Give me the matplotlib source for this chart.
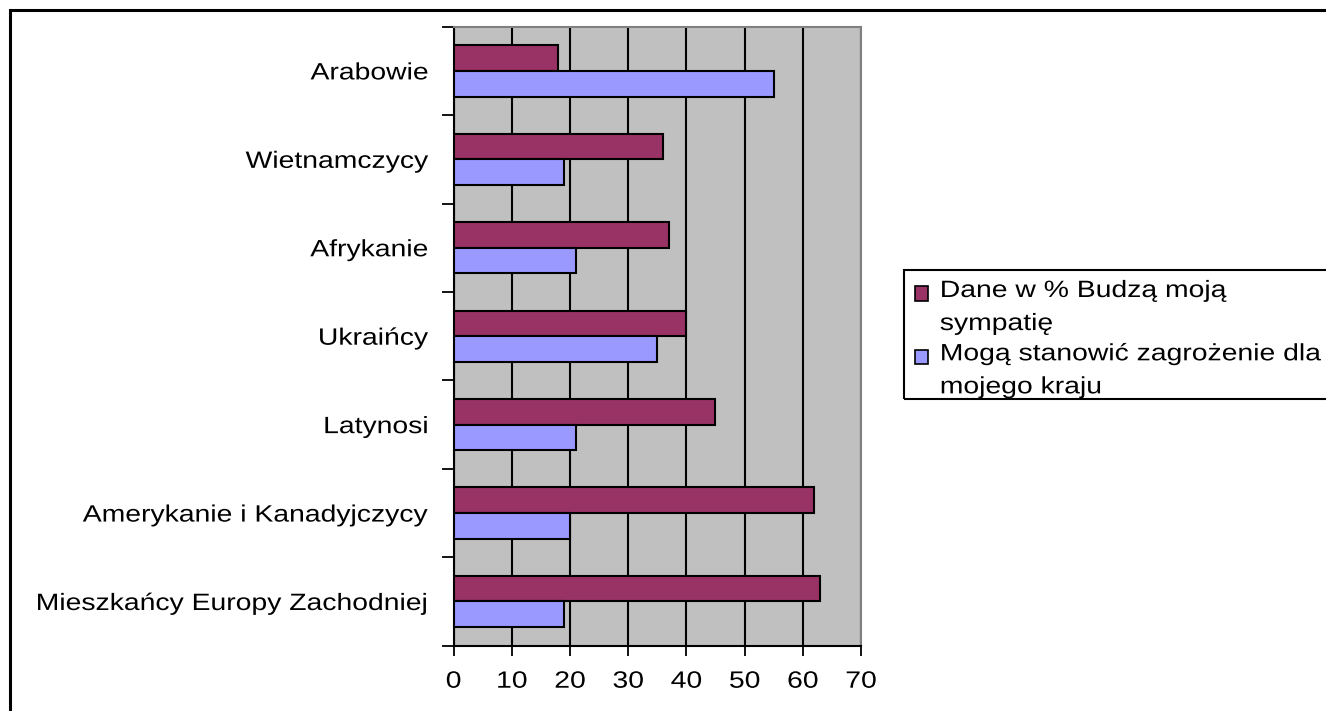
import matplotlib
matplotlib.use("Agg")
import matplotlib.pyplot as plt
from matplotlib.patches import Patch, Rectangle
from matplotlib.patheffects import AbstractPathEffect
from matplotlib.legend_handler import HandlerPatch
from matplotlib.transforms import Affine2D
import numpy as np

plt.rcParams['font.family'] = ['Liberation Sans', 'DejaVu Sans']

categories = ["Mieszkańcy Europy Zachodniej", "Amerykanie i Kanadyjczycy", "Latynosi",
              "Ukraińcy", "Afrykanie", "Wietnamczycy", "Arabowie"]
sympatia = [63, 62, 45, 40, 37, 36, 18]
zagrozenie = [19, 20, 21, 35, 21, 19, 55]
series_names = ["Dane w % Budzą moją\nsympatię", "Mogą stanowić zagrożenie dla\nmojego kraju"]
xticks = [0, 10, 20, 30, 40, 50, 60, 70]


class HStretch(AbstractPathEffect):
    """Horizontally widen glyphs (the original chart's text is stretched)."""

    def __init__(self, sx, anchor):
        super().__init__()
        self.sx = sx
        self.anchor = anchor

    def draw_path(self, renderer, gc, tpath, affine, rgbFace=None):
        if len(tpath.vertices) == 0:
            renderer.draw_path(gc, tpath, affine, rgbFace)
            return
        verts = affine.transform(tpath.vertices)
        xmin, xmax = verts[:, 0].min(), verts[:, 0].max()
        a = {"left": xmin, "right": xmax, "center": 0.5 * (xmin + xmax)}[self.anchor]
        new = affine + Affine2D().translate(-a, 0).scale(self.sx, 1).translate(a, 0)
        renderer.draw_path(gc, tpath, new, rgbFace)


SX = 1.2
FS = 17
LINE_PT = 20.5  # legend line distance in points

W, H = 1326, 711
fig = plt.figure(figsize=(W / 100, H / 100), dpi=100)
fig.patch.set_facecolor("white")

# outer frame
fig.patches.append(Rectangle((9.5 / W, -0.1), 1.2, 1 - 9.5 / H + 0.1, transform=fig.transFigure,
                             fill=False, edgecolor="black", linewidth=2.2, zorder=0))

ax = fig.add_axes([453.5 / W, 1 - 645.7 / H, (861 - 453.5) / W, (645.7 - 26.7) / H])
ax.set_facecolor("#C0C0C0")

y = np.arange(len(categories))
h = 0.29
ax.barh(y + h / 2, sympatia, height=h, color="#993366", edgecolor="black", linewidth=1.5, zorder=3)
ax.barh(y - h / 2, zagrozenie, height=h, color="#9999FF", edgecolor="black", linewidth=1.5, zorder=3)

ax.set_xlim(0, 70)
ax.set_ylim(-0.5, len(categories) - 0.5)
ax.set_xticks(xticks)
ax.set_xticklabels([str(v) for v in xticks])
ax.xaxis.grid(True, color="black", linewidth=1.5, zorder=1)
ax.set_axisbelow(True)

ax.set_yticks(np.arange(len(categories) + 1) - 0.5)
ax.set_yticklabels([])
ax.set_yticks(y, minor=True)
ax.set_yticklabels(categories, minor=True)
ax.tick_params(axis="y", which="major", length=9, width=1.3, direction="out", color="black")
ax.tick_params(axis="y", which="minor", length=0, pad=18, labelsize=FS)
ax.tick_params(axis="x", length=7, width=1.3, direction="out", pad=11, labelsize=FS)

for t in ax.get_yticklabels(minor=True):
    t.set_path_effects([HStretch(SX, "right")])
for t in ax.get_xticklabels():
    t.set_path_effects([HStretch(SX, "center")])

for s in ["left", "bottom"]:
    ax.spines[s].set_color("black")
    ax.spines[s].set_linewidth(1.5)
for s in ["top", "right"]:
    ax.spines[s].set_color("#808080")
    ax.spines[s].set_linewidth(1.5)

# legend box (extends past the right edge, as in the original)
fig.patches.append(Rectangle((903.5 / W, 1 - 399 / H), 0.5, (399 - 270) / H, transform=fig.transFigure,
                             fill=False, edgecolor="black", linewidth=1.5, zorder=1))


def first_line_patch(legend, orig_handle, xdescent, ydescent, width, height, fontsize):
    # align the swatch with the first line of a two-line label
    return Rectangle((-xdescent, -ydescent + LINE_PT / 2), width, height)


handles = [Patch(facecolor="#993366", edgecolor="black", linewidth=1.2),
           Patch(facecolor="#9999FF", edgecolor="black", linewidth=1.2)]
leg = fig.legend(handles, series_names, loc="upper left",
                 bbox_to_anchor=(915 / W, 1 - 280 / H), bbox_transform=fig.transFigure,
                 fontsize=FS, frameon=False,
                 handler_map={Patch: HandlerPatch(patch_func=first_line_patch)},
                 handlelength=0.55, handleheight=0.55, handletextpad=0.5,
                 borderaxespad=0, borderpad=0.0, labelspacing=0.35)
for t in leg.get_texts():
    t.set_linespacing(1.65)
    t.set_path_effects([HStretch(SX, "left")])

fig.savefig("out.png", dpi=100)
